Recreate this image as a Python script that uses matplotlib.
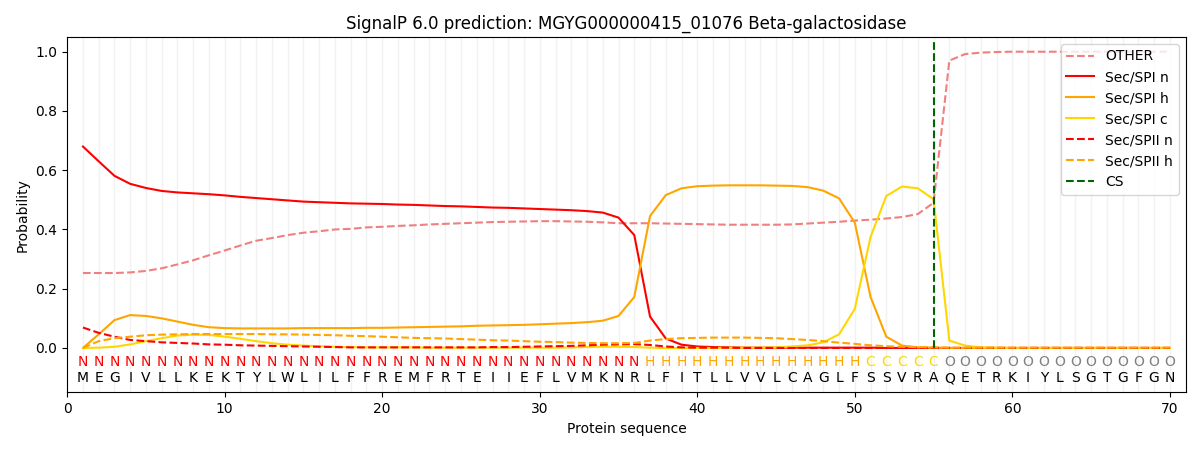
import matplotlib
matplotlib.use("Agg")
import matplotlib.pyplot as plt
import numpy as np

title = "SignalP 6.0 prediction: MGYG000000415_01076 Beta-galactosidase"
sequence = list("MEGIVLLKEKTYLWLILFFREMFRTEIIEFLVMKNRLFITLLVVLCAGLFSSVRAQETRKIYLSGTGFGN")
region_labels = list("N" * 36 + "H" * 14 + "C" * 5 + "O" * 15)
cs_position = 55

other = [0.253, 0.253, 0.253, 0.255, 0.260, 0.269, 0.282, 0.296, 0.313, 0.329,
         0.346, 0.362, 0.371, 0.381, 0.389, 0.394, 0.400, 0.402, 0.407, 0.409,
         0.412, 0.414, 0.417, 0.419, 0.421, 0.423, 0.425, 0.426, 0.427, 0.428,
         0.428, 0.427, 0.426, 0.424, 0.421, 0.421, 0.421, 0.420, 0.419, 0.418,
         0.417, 0.416, 0.416, 0.416, 0.416, 0.417, 0.420, 0.423, 0.426, 0.430,
         0.433, 0.437, 0.442, 0.452, 0.490, 0.970, 0.992, 0.997, 0.999, 1.000,
         1.000, 1.000, 1.000, 1.000, 1.000, 1.000, 1.000, 1.000, 1.000, 1.000]
spi_n = [0.680, 0.630, 0.581, 0.554, 0.540, 0.530, 0.525, 0.522, 0.519, 0.515,
         0.510, 0.506, 0.502, 0.498, 0.494, 0.492, 0.490, 0.488, 0.487, 0.486,
         0.484, 0.483, 0.481, 0.479, 0.478, 0.476, 0.474, 0.473, 0.471, 0.469,
         0.467, 0.465, 0.462, 0.457, 0.440, 0.381, 0.106, 0.032, 0.011, 0.005,
         0.003, 0.002, 0.001, 0.001, 0.001, 0.001, 0.001, 0.001, 0.001, 0.001,
         0.001, 0.000, 0.000, 0.000, 0.000, 0.000, 0.000, 0.000, 0.000, 0.000,
         0.000, 0.000, 0.000, 0.000, 0.000, 0.000, 0.000, 0.000, 0.000, 0.000]
spi_h = [0.000, 0.046, 0.094, 0.111, 0.108, 0.100, 0.089, 0.078, 0.070, 0.067,
         0.066, 0.066, 0.066, 0.066, 0.067, 0.067, 0.067, 0.067, 0.068, 0.068,
         0.069, 0.070, 0.071, 0.072, 0.073, 0.075, 0.076, 0.077, 0.078, 0.080,
         0.082, 0.084, 0.087, 0.092, 0.108, 0.172, 0.445, 0.516, 0.539, 0.546,
         0.548, 0.549, 0.549, 0.549, 0.548, 0.547, 0.543, 0.531, 0.505, 0.423,
         0.172, 0.038, 0.008, 0.002, 0.001, 0.000, 0.000, 0.000, 0.000, 0.000,
         0.000, 0.000, 0.000, 0.000, 0.000, 0.000, 0.000, 0.000, 0.000, 0.000]
spi_c = [0.000, 0.001, 0.004, 0.012, 0.023, 0.033, 0.042, 0.045, 0.044, 0.038,
         0.031, 0.023, 0.016, 0.011, 0.008, 0.006, 0.004, 0.003, 0.002, 0.002,
         0.002, 0.002, 0.001, 0.001, 0.001, 0.001, 0.001, 0.001, 0.001, 0.001,
         0.001, 0.002, 0.003, 0.004, 0.004, 0.003, 0.001, 0.000, 0.000, 0.000,
         0.000, 0.001, 0.001, 0.001, 0.002, 0.005, 0.009, 0.019, 0.046, 0.132,
         0.375, 0.513, 0.545, 0.539, 0.502, 0.025, 0.008, 0.002, 0.001, 0.000,
         0.000, 0.000, 0.000, 0.000, 0.000, 0.000, 0.000, 0.000, 0.000, 0.000]
spii_n = [0.069, 0.051, 0.038, 0.027, 0.023, 0.019, 0.017, 0.015, 0.012, 0.011,
          0.009, 0.008, 0.007, 0.006, 0.005, 0.004, 0.003, 0.002, 0.002, 0.002,
          0.002, 0.002, 0.002, 0.002, 0.002, 0.002, 0.003, 0.003, 0.004, 0.005,
          0.006, 0.007, 0.009, 0.011, 0.012, 0.013, 0.010, 0.005, 0.002, 0.001,
          0.001, 0.001, 0.000, 0.000, 0.000, 0.000, 0.000, 0.000, 0.000, 0.000,
          0.000, 0.000, 0.000, 0.000, 0.000, 0.000, 0.000, 0.000, 0.000, 0.000,
          0.000, 0.000, 0.000, 0.000, 0.000, 0.000, 0.000, 0.000, 0.000, 0.000]
spii_h = [0.000, 0.023, 0.033, 0.038, 0.043, 0.045, 0.046, 0.047, 0.047, 0.047,
          0.047, 0.047, 0.046, 0.046, 0.045, 0.044, 0.043, 0.041, 0.040, 0.038,
          0.036, 0.034, 0.033, 0.032, 0.030, 0.028, 0.026, 0.025, 0.023, 0.021,
          0.020, 0.018, 0.017, 0.016, 0.016, 0.017, 0.025, 0.030, 0.033, 0.034,
          0.035, 0.035, 0.035, 0.034, 0.033, 0.030, 0.027, 0.023, 0.018, 0.014,
          0.009, 0.006, 0.004, 0.003, 0.002, 0.001, 0.001, 0.001, 0.001, 0.001,
          0.001, 0.001, 0.001, 0.001, 0.001, 0.001, 0.001, 0.001, 0.001, 0.001]

label_colors = {"N": "red", "H": "orange", "C": "gold", "O": "gray"}

pos = np.arange(1, len(sequence) + 1)

fig, ax = plt.subplots(figsize=(12, 4.5), dpi=100)

for p in pos:
    ax.axvline(p, color="#e8e8e8", linewidth=1.0, alpha=0.6, zorder=0)

ax.plot(pos, other, color="lightcoral", linestyle="--", label="OTHER")
ax.plot(pos, spi_n, color="red", linestyle="-", label="Sec/SPI n")
ax.plot(pos, spi_h, color="orange", linestyle="-", label="Sec/SPI h")
ax.plot(pos, spi_c, color="gold", linestyle="-", label="Sec/SPI c")
ax.plot(pos, spii_n, color="red", linestyle="--", label="Sec/SPII n")
ax.plot(pos, spii_h, color="orange", linestyle="--", label="Sec/SPII h")
ax.plot([cs_position, cs_position], [0, 1.04], color="darkgreen", linestyle="--", label="CS")

for p, lab, aa in zip(pos, region_labels, sequence):
    ax.text(p, -0.048, lab, color=label_colors[lab], ha="center", va="center", fontsize=10)
    ax.text(p, -0.102, aa, color="black", ha="center", va="center", fontsize=10)

ax.set_xlim(0, 71)
ax.set_ylim(-0.15, 1.05)
ax.set_xlabel("Protein sequence")
ax.set_ylabel("Probability")
ax.set_title(title)
ax.legend(loc="upper right")

fig.subplots_adjust(left=0.056, right=0.988, top=0.918, bottom=0.128)
fig.savefig("out.png", dpi=100)
